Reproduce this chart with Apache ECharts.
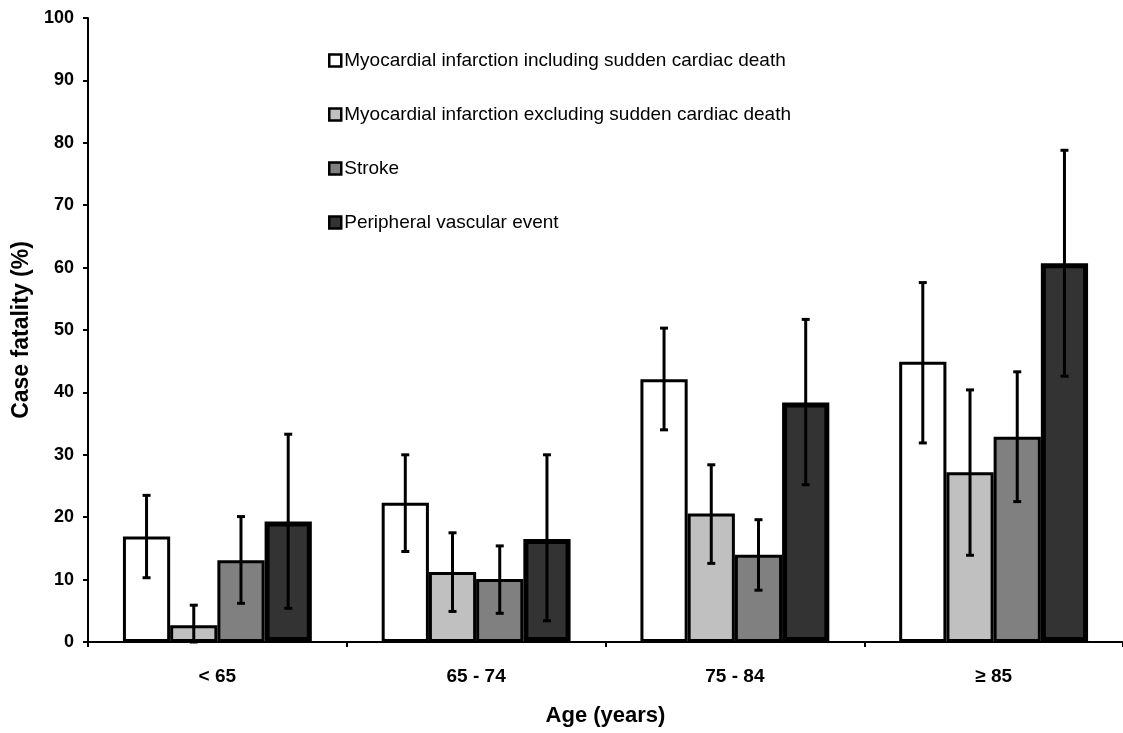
<!DOCTYPE html>
<html>
<head>
<meta charset="utf-8">
<script src="https://cdn.jsdelivr.net/npm/echarts@6/dist/echarts.min.js"></script>
<style>
html,body{margin:0;padding:0;background:#fff;}
#chart{width:1123px;height:733px;}
</style>
</head>
<body>
<div id="chart"></div>
<script>
// Data
const categories = ['< 65', '65 - 74', '75 - 84', '≥ 85'];
const seriesNames = [
  'Myocardial infarction including sudden cardiac death',
  'Myocardial infarction excluding sudden cardiac death',
  'Stroke',
  'Peripheral vascular event'
];
const miIncl = [16.9, 22.3, 42.1, 44.9];
const miExcl = [2.7, 11.2, 20.6, 27.2];
const stroke = [13.1, 10.1, 14.0, 32.9];
const pve = [19.3, 16.5, 38.4, 60.7];
const miInclLow = [10.3, 14.5, 34.0, 31.9];
const miInclHigh = [23.5, 30.0, 50.3, 57.6];
const miExclLow = [0, 4.9, 12.6, 13.9];
const miExclHigh = [5.9, 17.5, 28.4, 40.4];
const strokeLow = [6.2, 4.6, 8.3, 22.5];
const strokeHigh = [20.1, 15.4, 19.6, 43.3];
const pveLow = [5.4, 3.4, 25.2, 42.6];
const pveHigh = [33.3, 30.0, 51.7, 78.8];
const yTicks = [0, 10, 20, 30, 40, 50, 60, 70, 80, 90, 100];

const values = [miIncl, miExcl, stroke, pve];
const lows = [miInclLow, miExclLow, strokeLow, pveLow];
const highs = [miInclHigh, miExclHigh, strokeHigh, pveHigh];
const colors = ['#ffffff', '#c0c0c0', '#808080', '#333333'];
const borderWidths = [3, 3, 3, 5];
const GAP = 0.27;
const FONT = '"Liberation Sans", Arial, sans-serif';

const errData = [];
for (let s = 0; s < 4; s++) {
  for (let c = 0; c < categories.length; c++) {
    errData.push([c, lows[s][c], highs[s][c], s]);
  }
}

const barSeries = seriesNames.map((name, i) => ({
  name: name,
  type: 'bar',
  data: values[i],
  barGap: '0%',
  barCategoryGap: (GAP * 100) + '%',
  itemStyle: { color: colors[i], borderColor: '#000', borderWidth: borderWidths[i] },
  emphasis: { disabled: true },
  z: 2
}));

const errSeries = {
  type: 'custom',
  data: errData,
  z: 10,
  silent: true,
  renderItem: function (params, api) {
    const c = api.value(0), lo = api.value(1), hi = api.value(2), s = api.value(3);
    const band = api.size([1, 0])[0];
    const bw = band * (1 - GAP) / 4;
    const cx = api.coord([c, 0])[0] + (s - 1.5) * bw;
    const yl = api.coord([c, lo])[1];
    const yh = api.coord([c, hi])[1];
    const cap = 4;
    const st = { stroke: '#000', lineWidth: 3 };
    return {
      type: 'group',
      children: [
        { type: 'line', shape: { x1: cx, y1: yl, x2: cx, y2: yh }, style: st },
        { type: 'line', shape: { x1: cx - cap, y1: yh, x2: cx + cap, y2: yh }, style: st },
        { type: 'line', shape: { x1: cx - cap, y1: yl, x2: cx + cap, y2: yl }, style: st }
      ]
    };
  }
};

const chart = echarts.init(document.getElementById('chart'), null, { renderer: 'canvas' });
chart.setOption({
  backgroundColor: '#ffffff',
  animation: false,
  textStyle: { fontFamily: FONT },
  grid: { left: 88, top: 18, width: 1038, height: 624, containLabel: false },
  legend: {
    orient: 'vertical',
    left: 323,
    top: 46,
    itemWidth: 12,
    itemHeight: 12,
    itemGap: 35,
    icon: 'rect',
    data: seriesNames,
    itemStyle: { borderColor: '#000', borderWidth: 2.5 },
    textStyle: { fontFamily: FONT, fontSize: 19, color: '#000', lineHeight: 19, padding: [0, 0, 0, -2] }
  },
  xAxis: {
    type: 'category',
    data: categories,
    name: 'Age (years)',
    nameLocation: 'middle',
    nameGap: 63,
    nameTextStyle: { fontFamily: FONT, fontSize: 22, fontWeight: 'bold', color: '#000' },
    axisLine: { lineStyle: { color: '#000', width: 2 } },
    axisTick: { show: true, length: 5, lineStyle: { color: '#000', width: 2 } },
    axisLabel: { fontFamily: FONT, fontSize: 19, fontWeight: 'bold', color: '#000', margin: 25 }
  },
  yAxis: {
    type: 'value',
    min: yTicks[0],
    max: yTicks[yTicks.length - 1],
    interval: 10,
    name: 'Case fatality (%)',
    nameLocation: 'middle',
    nameGap: 55,
    nameTextStyle: { fontFamily: FONT, fontSize: 23, fontWeight: 'bold', color: '#000' },
    axisLine: { show: true, lineStyle: { color: '#000', width: 2 } },
    axisTick: { show: true, length: 5, lineStyle: { color: '#000', width: 2 } },
    axisLabel: { fontFamily: FONT, fontSize: 18, fontWeight: 'bold', color: '#000', margin: 14 },
    splitLine: { show: false }
  },
  series: barSeries.concat([errSeries])
});
</script>
</body>
</html>
